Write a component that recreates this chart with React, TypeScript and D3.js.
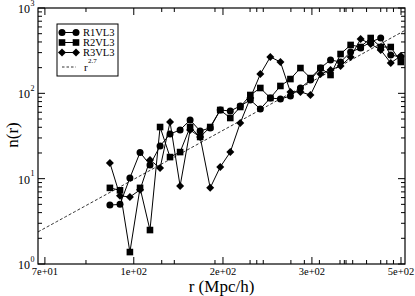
import React from 'react';
import * as d3 from 'd3';

// r bins (Mpc/h)
const rValues = [100.0, 105.7, 111.6, 118.0, 124.6, 131.7, 139.1, 147.0, 155.3, 164.1,
  173.4, 183.2, 193.6, 204.5, 216.1, 228.3, 241.2, 254.9, 269.3, 284.5,
  300.6, 317.6, 335.6, 354.6, 374.7, 395.9, 418.3, 442.0, 467.0, 493.4];

const r1vl3 = [4.9, 5.0, 10.2, 20.3, 14.5, 24.1, 33.4, 37.2, 48.7, 36.2,
  39.3, 63.8, 62.1, 71.1, 83.6, 65.5, 88.2, 85.8, 93.1, 115.5,
  143.3, 198, 246, 233, 305, 340, 400, 445, 281, 267];

const r2vl3 = [7.8, 7.3, 1.38, 7.8, 2.5, 40.3, 17.9, 20.5, 40.3, 30.8,
  40.3, 63.8, 51.4, 69.2, 95.6, 115.5, 88.2, 122, 147, 198,
  151, 198, 164, 289, 369, 349, 445, 349, 349, 233];

const r3vl3 = [15.3, 6.3, 6.1, 7.4, 16.6, 13.3, 46.1, 8.2, 37.2, 30.8,
  7.8, 13.7, 20.5, 44.9, 88.2, 168, 267, 233, 104, 104,
  95.6, 168, 188, 209, 267, 433, 379, 322, 227, 274];

const seriesNames = ['R1VL3', 'R2VL3', 'R3VL3'];
const seriesShapes = ['circle', 'square', 'diamond'];

const xMajorTicks = [70, 114, 186, 303, 494];
const xMajorLabels = ['7e+01', '1e+02', '2e+02', '3e+02', '5e+02'];
const xMinorTicks = [87.7, 132.9, 142.4, 178, 215.8, 223.9, 232, 270, 290.7,
  315.7, 353.5, 362, 365.4, 379, 409, 442, 457, 474];
const yMajorTicks = [1, 10, 100, 1000];
const yMajorExponents = ['0', '1', '2', '3'];

const powerLawExponent = 2.7;
const powerLawAt100 = 6.9;
const xDomain = [67.4, 505];
const yDomain = [1, 1000];

const FONT = "'Liberation Serif', 'Times New Roman', serif";

function Marker({ shape, cx, cy }: { shape: string; cx: number; cy: number }) {
  if (shape === 'circle') return <circle cx={cx} cy={cy} r={3.5} fill="black" />;
  if (shape === 'square') return <rect x={cx - 3.3} y={cy - 3.3} width={6.6} height={6.6} fill="black" />;
  const s = 4;
  return <path d={`M${cx},${cy - s}L${cx + s},${cy}L${cx},${cy + s}L${cx - s},${cy}Z`} fill="black" />;
}

export default function App() {
  const L = 38, R = 405, T = 8, B = 264;
  const x = d3.scaleLog().domain(xDomain).range([L, R]);
  const y = d3.scaleLog().domain(yDomain).range([B, T]);
  const line = d3.line<[number, number]>().x(d => x(d[0])).y(d => y(d[1]));

  const series = [r1vl3, r2vl3, r3vl3];
  const yMinor = y.ticks().filter(v => !yMajorTicks.includes(v));

  const plSamples = d3.range(0, 41).map(i => {
    const r = xDomain[0] * Math.pow(xDomain[1] / xDomain[0], i / 40);
    return [r, powerLawAt100 * Math.pow(r / 100, powerLawExponent)] as [number, number];
  });

  const legendX = 57, legendY = 24, legendW = 61, legendH = 52;
  const rowY = [32.5, 42.5, 52.5];

  return (
    <svg width={415} height={296} style={{ position: 'absolute', left: 0, top: 0, background: 'white' }}
      fontFamily={FONT}>
      <rect x={0} y={0} width={415} height={296} fill="white" />
      {/* power law */}
      <path d={line(plSamples) || ''} fill="none" stroke="black" strokeWidth={0.8} strokeDasharray="3,2" />
      {/* series lines */}
      {series.map((s, k) => (
        <path key={k} d={line(rValues.map((r, i) => [r, s[i]] as [number, number])) || ''}
          fill="none" stroke="black" strokeWidth={1} />
      ))}
      {series.map((s, k) => (
        <g key={k}>
          {rValues.map((r, i) => (
            <Marker key={i} shape={seriesShapes[k]} cx={x(r)} cy={y(s[i])} />
          ))}
        </g>
      ))}
      {/* frame */}
      <rect x={L} y={T} width={R - L} height={B - T} fill="none" stroke="black" strokeWidth={1.2} />
      {/* x ticks */}
      {xMajorTicks.map((v, i) => (
        <g key={'xM' + i}>
          <line x1={x(v)} x2={x(v)} y1={B} y2={B - 7} stroke="black" />
          <line x1={x(v)} x2={x(v)} y1={T} y2={T + 7} stroke="black" />
          <text x={x(v)} y={275} fontSize={10.5} textAnchor="middle">{xMajorLabels[i]}</text>
        </g>
      ))}
      {xMinorTicks.map((v, i) => (
        <g key={'xm' + i}>
          <line x1={x(v)} x2={x(v)} y1={B} y2={B - 4} stroke="black" />
          <line x1={x(v)} x2={x(v)} y1={T} y2={T + 4} stroke="black" />
        </g>
      ))}
      {/* y ticks */}
      {yMajorTicks.map((v, i) => (
        <g key={'yM' + i}>
          <line x1={L} x2={L + 7} y1={y(v)} y2={y(v)} stroke="black" />
          <line x1={R} x2={R - 7} y1={y(v)} y2={y(v)} stroke="black" />
          <text x={30} y={y(v) + 5} fontSize={12} textAnchor="end">10</text>
          <text x={30.5} y={y(v) - 2.5} fontSize={8}>{yMajorExponents[i]}</text>
        </g>
      ))}
      {yMinor.map((v, i) => (
        <g key={'ym' + i}>
          <line x1={L} x2={L + 4} y1={y(v)} y2={y(v)} stroke="black" />
          <line x1={R} x2={R - 4} y1={y(v)} y2={y(v)} stroke="black" />
        </g>
      ))}
      {/* axis titles */}
      <text x={221.5} y={292} fontSize={17} textAnchor="middle">r (Mpc/h)</text>
      <text transform={`translate(17.5,135) rotate(-90)`} fontSize={17} textAnchor="middle">n(r)</text>
      {/* legend */}
      <rect x={legendX} y={legendY} width={legendW} height={legendH} fill="white" stroke="black" strokeWidth={1} />
      {seriesNames.map((name, k) => (
        <g key={name}>
          <line x1={62} x2={76} y1={rowY[k]} y2={rowY[k]} stroke="black" />
          <Marker shape={seriesShapes[k]} cx={62} cy={rowY[k]} />
          <Marker shape={seriesShapes[k]} cx={76} cy={rowY[k]} />
          <text x={83} y={rowY[k] + 3.5} fontSize={10.5}>{name}</text>
        </g>
      ))}
      <line x1={62} x2={76} y1={67} y2={67} stroke="black" strokeWidth={0.8} strokeDasharray="2.5,2" />
      <text x={84} y={71} fontSize={11}>r</text>
      <text x={88} y={63} fontSize={7}>2.7</text>
    </svg>
  );
}
